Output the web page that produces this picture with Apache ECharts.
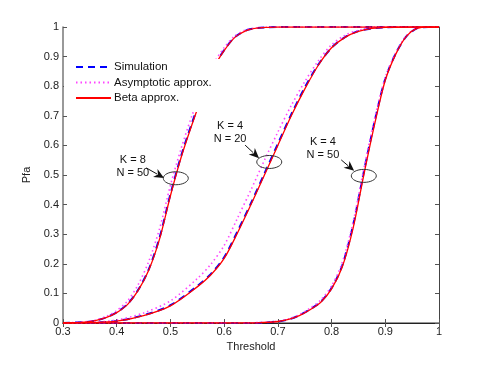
<!DOCTYPE html>
<html>
<head>
<meta charset="utf-8">
<script src="https://cdn.jsdelivr.net/npm/echarts@6/dist/echarts.min.js"></script>
<style>
html, body { margin: 0; padding: 0; background: #fff; }
#main { width: 485px; height: 365px; }
</style>
</head>
<body>
<div id="main"></div>
<script>
// thresholds and Pfa values
var thrA = [0.30, 0.34, 0.36, 0.38, 0.40, 0.42, 0.44, 0.46, 0.48, 0.50, 0.52, 0.54, 0.56, 0.58, 0.60, 0.62, 0.64, 0.66, 0.68, 0.70, 1.00];
var simA  = [0, 0.003, 0.008, 0.019, 0.036, 0.064, 0.112, 0.183, 0.290, 0.435, 0.565, 0.675, 0.775, 0.862, 0.922, 0.966, 0.988, 0.996, 0.999, 1, 1];
var asyA  = [0, 0.004, 0.010, 0.022, 0.042, 0.074, 0.130, 0.210, 0.320, 0.465, 0.590, 0.700, 0.795, 0.875, 0.930, 0.970, 0.990, 0.997, 1, 1, 1];
var betaA = [0, 0.003, 0.008, 0.018, 0.035, 0.062, 0.110, 0.180, 0.285, 0.430, 0.560, 0.670, 0.770, 0.860, 0.920, 0.965, 0.987, 0.996, 0.999, 1, 1];

var thrB = [0.30, 0.35, 0.40, 0.45, 0.50, 0.55, 0.575, 0.60, 0.625, 0.65, 0.675, 0.70, 0.725, 0.75, 0.775, 0.80, 0.825, 0.85, 0.875, 0.90, 0.95, 1.00];
var simB  = [0, 0.001, 0.007, 0.026, 0.060, 0.125, 0.165, 0.222, 0.310, 0.405, 0.505, 0.605, 0.705, 0.795, 0.872, 0.930, 0.966, 0.986, 0.995, 0.999, 1, 1];
var asyB  = [0, 0.002, 0.010, 0.034, 0.075, 0.150, 0.198, 0.262, 0.355, 0.450, 0.550, 0.645, 0.735, 0.815, 0.885, 0.940, 0.972, 0.989, 0.997, 1, 1, 1];
var betaB = [0, 0.001, 0.006, 0.025, 0.058, 0.122, 0.162, 0.218, 0.305, 0.400, 0.500, 0.600, 0.700, 0.790, 0.870, 0.930, 0.965, 0.985, 0.995, 0.999, 1, 1];

var thrC = [0.30, 0.65, 0.70, 0.72, 0.74, 0.76, 0.78, 0.80, 0.82, 0.84, 0.86, 0.88, 0.90, 0.92, 0.94, 0.96, 0.98, 1.00];
var simC  = [0, 0, 0.005, 0.012, 0.026, 0.046, 0.072, 0.118, 0.195, 0.330, 0.510, 0.680, 0.825, 0.912, 0.970, 0.996, 1, 1];
var asyC  = [0, 0.001, 0.006, 0.014, 0.028, 0.050, 0.078, 0.125, 0.205, 0.340, 0.520, 0.690, 0.830, 0.915, 0.972, 0.997, 1, 1];
var betaC = [0, 0, 0.005, 0.012, 0.025, 0.045, 0.070, 0.115, 0.190, 0.320, 0.500, 0.670, 0.820, 0.910, 0.970, 0.996, 1, 1];

// annotations: [line1, line2, label centre, arrow tail, arrow head, circle centre] in data units
var notes = [
    ['K = 8', 'N = 50', [0.430, 0.530], [0.455, 0.524], [0.488, 0.490], [0.510, 0.489]],
    ['K = 4', 'N = 20', [0.611, 0.642], [0.639, 0.601], [0.665, 0.557], [0.684, 0.544]],
    ['K = 4', 'N = 50', [0.784, 0.588], [0.818, 0.551], [0.842, 0.514], [0.860, 0.497]]
];

var font = 'Liberation Sans, Arial, sans-serif';

function pairs(xs, ys) {
    return xs.map(function (x, i) { return [x, ys[i]]; });
}

function curve(name, xs, ys) {
    var st = {
        'Simulation': { color: '#0000ff', type: [7, 5], width: 2 },
        'Asymptotic approx.': { color: '#ff44ff', type: [1.5, 3], width: 1.6 },
        'Beta approx.': { color: '#ff0000', type: 'solid', width: 1.3 }
    }[name];
    return {
        name: name,
        type: 'line',
        data: pairs(xs, ys),
        symbol: 'none',
        smooth: 0.3,
        itemStyle: { color: st.color },
        lineStyle: { color: st.color, type: st.type, width: st.width },
        animation: false
    };
}

var myChart = echarts.init(document.getElementById('main'));

var option = {
    animation: false,
    textStyle: { fontFamily: font },
    grid: { left: 63, right: 46, top: 27, bottom: 42 },
    legend: {
        data: ['Simulation', 'Asymptotic approx.', 'Beta approx.'],
        orient: 'vertical',
        left: 64,
        top: 59,
        padding: [2, 10, 8, 11],
        itemGap: 3.5,
        itemWidth: 35,
        itemHeight: 12,
        backgroundColor: '#fff',
        z: 10,
        itemStyle: { opacity: 0 },
        textStyle: { fontSize: 11.5, color: '#111', fontFamily: font, padding: [0, 0, 0, -2] }
    },
    xAxis: [{
        type: 'value', min: 0.3, max: 1, interval: 0.1,
        name: 'Threshold', nameLocation: 'middle', nameGap: 17,
        nameTextStyle: { fontSize: 11, color: '#222' },
        axisLine: { lineStyle: { color: '#777', width: 1.5 } },
        axisTick: { inside: true, length: 4, lineStyle: { color: '#555' } },
        axisLabel: { fontSize: 11, color: '#222', margin: 3,
            formatter: function (v) { return String(+v.toFixed(1)); } },
        splitLine: { show: false }
    }, {
        type: 'value', min: 0.3, max: 1, interval: 0.1, position: 'top',
        axisLine: { lineStyle: { color: '#222', width: 1 } },
        axisTick: { inside: true, length: 4, lineStyle: { color: '#555' } },
        axisLabel: { show: false },
        splitLine: { show: false }
    }],
    yAxis: [{
        type: 'value', min: 0, max: 1, interval: 0.1,
        name: 'Pfa', nameLocation: 'middle', nameGap: 27, nameRotate: 90,
        nameTextStyle: { fontSize: 11, color: '#222' },
        axisLine: { lineStyle: { color: '#777', width: 1.5 } },
        axisTick: { inside: true, length: 4, lineStyle: { color: '#555' } },
        axisLabel: { fontSize: 11, color: '#222', margin: 4,
            formatter: function (v) { return String(+v.toFixed(1)); } },
        splitLine: { show: false }
    }, {
        type: 'value', min: 0, max: 1, interval: 0.1, position: 'right',
        axisLine: { show: true, lineStyle: { color: '#444', width: 1 } },
        axisTick: { show: true, inside: true, length: 4, lineStyle: { color: '#555' } },
        axisLabel: { show: false },
        splitLine: { show: false }
    }],
    series: [
        curve('Simulation', thrA, simA),
        curve('Simulation', thrB, simB),
        curve('Simulation', thrC, simC),
        curve('Asymptotic approx.', thrA, asyA),
        curve('Asymptotic approx.', thrB, asyB),
        curve('Asymptotic approx.', thrC, asyC),
        curve('Beta approx.', thrA, betaA),
        curve('Beta approx.', thrB, betaB),
        curve('Beta approx.', thrC, betaC)
    ]
};
myChart.setOption(option);

// annotation labels, arrows and ellipses placed through the axes
var graphics = [];
notes.forEach(function (n) {
    var lab = myChart.convertToPixel({ gridIndex: 0 }, n[2]);
    var t = myChart.convertToPixel({ gridIndex: 0 }, n[3]);
    var h = myChart.convertToPixel({ gridIndex: 0 }, n[4]);
    var c = myChart.convertToPixel({ gridIndex: 0 }, n[5]);
    graphics.push({
        type: 'text', x: lab[0], y: lab[1], z: 20,
        style: { text: n[0] + '\n' + n[1], fill: '#111', font: '11px ' + font,
                 align: 'center', verticalAlign: 'middle', lineHeight: 13 }
    });
    var dx = h[0] - t[0], dy = h[1] - t[1];
    var len = Math.sqrt(dx * dx + dy * dy);
    var ux = dx / len, uy = dy / len;
    var bx = h[0] - ux * 10, by = h[1] - uy * 10;
    graphics.push({
        type: 'line', z: 20,
        shape: { x1: t[0], y1: t[1], x2: bx + ux * 2, y2: by + uy * 2 },
        style: { stroke: '#111', lineWidth: 1 }
    });
    graphics.push({
        type: 'polygon', z: 20,
        shape: { points: [[h[0], h[1]], [bx - uy * 4.5, by + ux * 4.5], [bx + ux * 3, by + uy * 3], [bx + uy * 4.5, by - ux * 4.5]] },
        style: { fill: '#111' }
    });
    graphics.push({
        type: 'ellipse', z: 20,
        shape: { cx: c[0], cy: c[1], rx: 12.5, ry: 6.5 },
        style: { fill: null, stroke: '#333', lineWidth: 1 }
    });
});
myChart.setOption({ graphic: graphics });
</script>
</body>
</html>
